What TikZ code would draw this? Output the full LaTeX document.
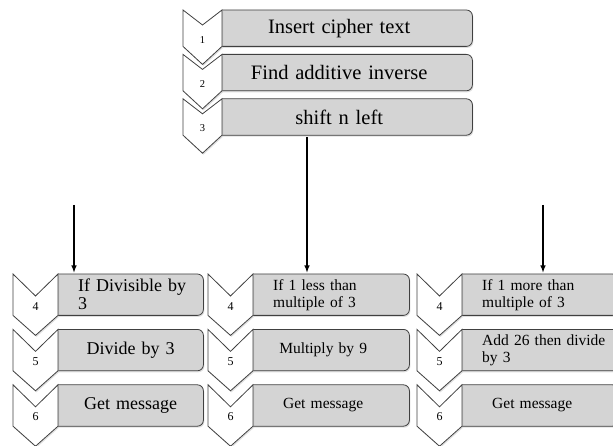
\documentclass[tikz,border=0pt]{standalone}
\usepackage{fontspec}
\setmainfont{Liberation Serif}
\usepackage{tikz}
\usetikzlibrary{positioning,backgrounds,shadows}

\definecolor{boxgray}{RGB}{212,212,212}
\definecolor{edgegray}{RGB}{64,64,64}
\hyphenpenalty=10000
\exhyphenpenalty=10000

\begin{document}
\begin{tikzpicture}[x=1pt,y=-1pt,
    stepbox/.style={anchor=north west, inner xsep=20pt, inner ysep=0pt, align=center},
    topbox/.style={stepbox, minimum height=36pt, text width=194pt,
        font=\fontsize{20.5}{22}\selectfont},
    leftbox/.style={stepbox, minimum height=41pt, text width=105pt,
        font=\fontsize{18}{18}\selectfont},
    sidebox/.style={stepbox, minimum height=41pt, text width=100pt,
        font=\fontsize{15.5}{17}\selectfont},
    boxfill/.style={fill=boxgray, draw=edgegray, line width=0.8pt, rounded corners=6pt,
        drop shadow={opacity=0.25, shadow xshift=1pt, shadow yshift=-1.5pt}},
    chevron/.style={fill=white, draw=edgegray, line width=0.8pt,
        drop shadow={opacity=0.25, shadow xshift=1pt, shadow yshift=-1.5pt}},
    stepnum/.style={anchor=south, inner sep=3pt},
    arrow/.style={-latex, line width=1.4pt}]

\useasboundingbox (0,0) rectangle (613,446);

% Top steps
\node[topbox] (s1) at (222,10) {Insert cipher text};
\node[topbox, below=8pt of s1] (s2) {Find additive inverse};
\node[topbox, below=8pt of s2] (s3) {shift n left};

% Divisible branch
\node[leftbox, align=left] (l4) at (58,274) {If~Divisible~by\\3};
\node[leftbox, below=14pt of l4] (l5) {Divide by 3};
\node[leftbox, below=14pt of l5] (l6) {Get message};

% 1 less branch
\node[sidebox, align=left] (m4) at (253,274) {If 1 less than\\multiple~of~3};
\node[sidebox, below=14pt of m4] (m5) {Multiply by 9};
\node[sidebox, below=14pt of m5] (m6) {Get message};

% 1 more branch
\node[sidebox, align=left] (r4) at (462,274) {If 1 more than\\multiple~of~3};
\node[sidebox, align=left, below=14pt of r4] (r5) {Add~26~then~divide\\by~3};
\node[sidebox, below=14pt of r5] (r6) {Get message};

% Boxes
\begin{scope}[on background layer]
\foreach \b/\p in {s1/16,s2/16,s3/16,l4/0,l5/0,l6/0,m4/16,m5/16,m6/16,r4/16,r5/16,r6/16}
    \filldraw[boxfill] (\b.north west) -- ([xshift=\p]\b.north east)
        -- ([xshift=\p]\b.south east) -- (\b.south west);
\end{scope}

% Chevrons
\foreach \b/\n in {s1/1,s2/2,s3/3} {
    \filldraw[chevron] (\b.north west) -- ++(-19.5,15) -- ([xshift=-39]\b.north west)
        -- ([xshift=-39]\b.south west) -- ++(19.5,18) -- (\b.south west) -- cycle;
    \node[stepnum, font=\fontsize{10.5}{12}\selectfont] (n\b) at ([xshift=-19.5]\b.south west) {\n};
}
\foreach \b/\n in {l4/4,l5/5,l6/6,m4/4,m5/5,m6/6,r4/4,r5/5,r6/6} {
    \filldraw[chevron] (\b.north west) -- ++(-22.5,22) -- ([xshift=-45]\b.north west)
        -- ([xshift=-45]\b.south west) -- ++(22.5,20) -- (\b.south west) -- cycle;
    \node[stepnum, inner sep=5pt, font=\fontsize{12}{14}\selectfont] (n\b) at ([xshift=-22.5]\b.south west) {\n};
}

% Arrows
\coordinate (split) at (307,0);
\coordinate (lstart) at (74,205);
\coordinate (rstart) at (543,205);
\draw[arrow, shorten <=2pt, shorten >=1.5pt] (s3.south -| split) -- (split |- m4.north);
\draw[arrow, shorten >=1.5pt] (lstart) -- (lstart |- l4.north);
\draw[arrow, shorten >=1.5pt] (rstart) -- (rstart |- r4.north);

\end{tikzpicture}
\end{document}
